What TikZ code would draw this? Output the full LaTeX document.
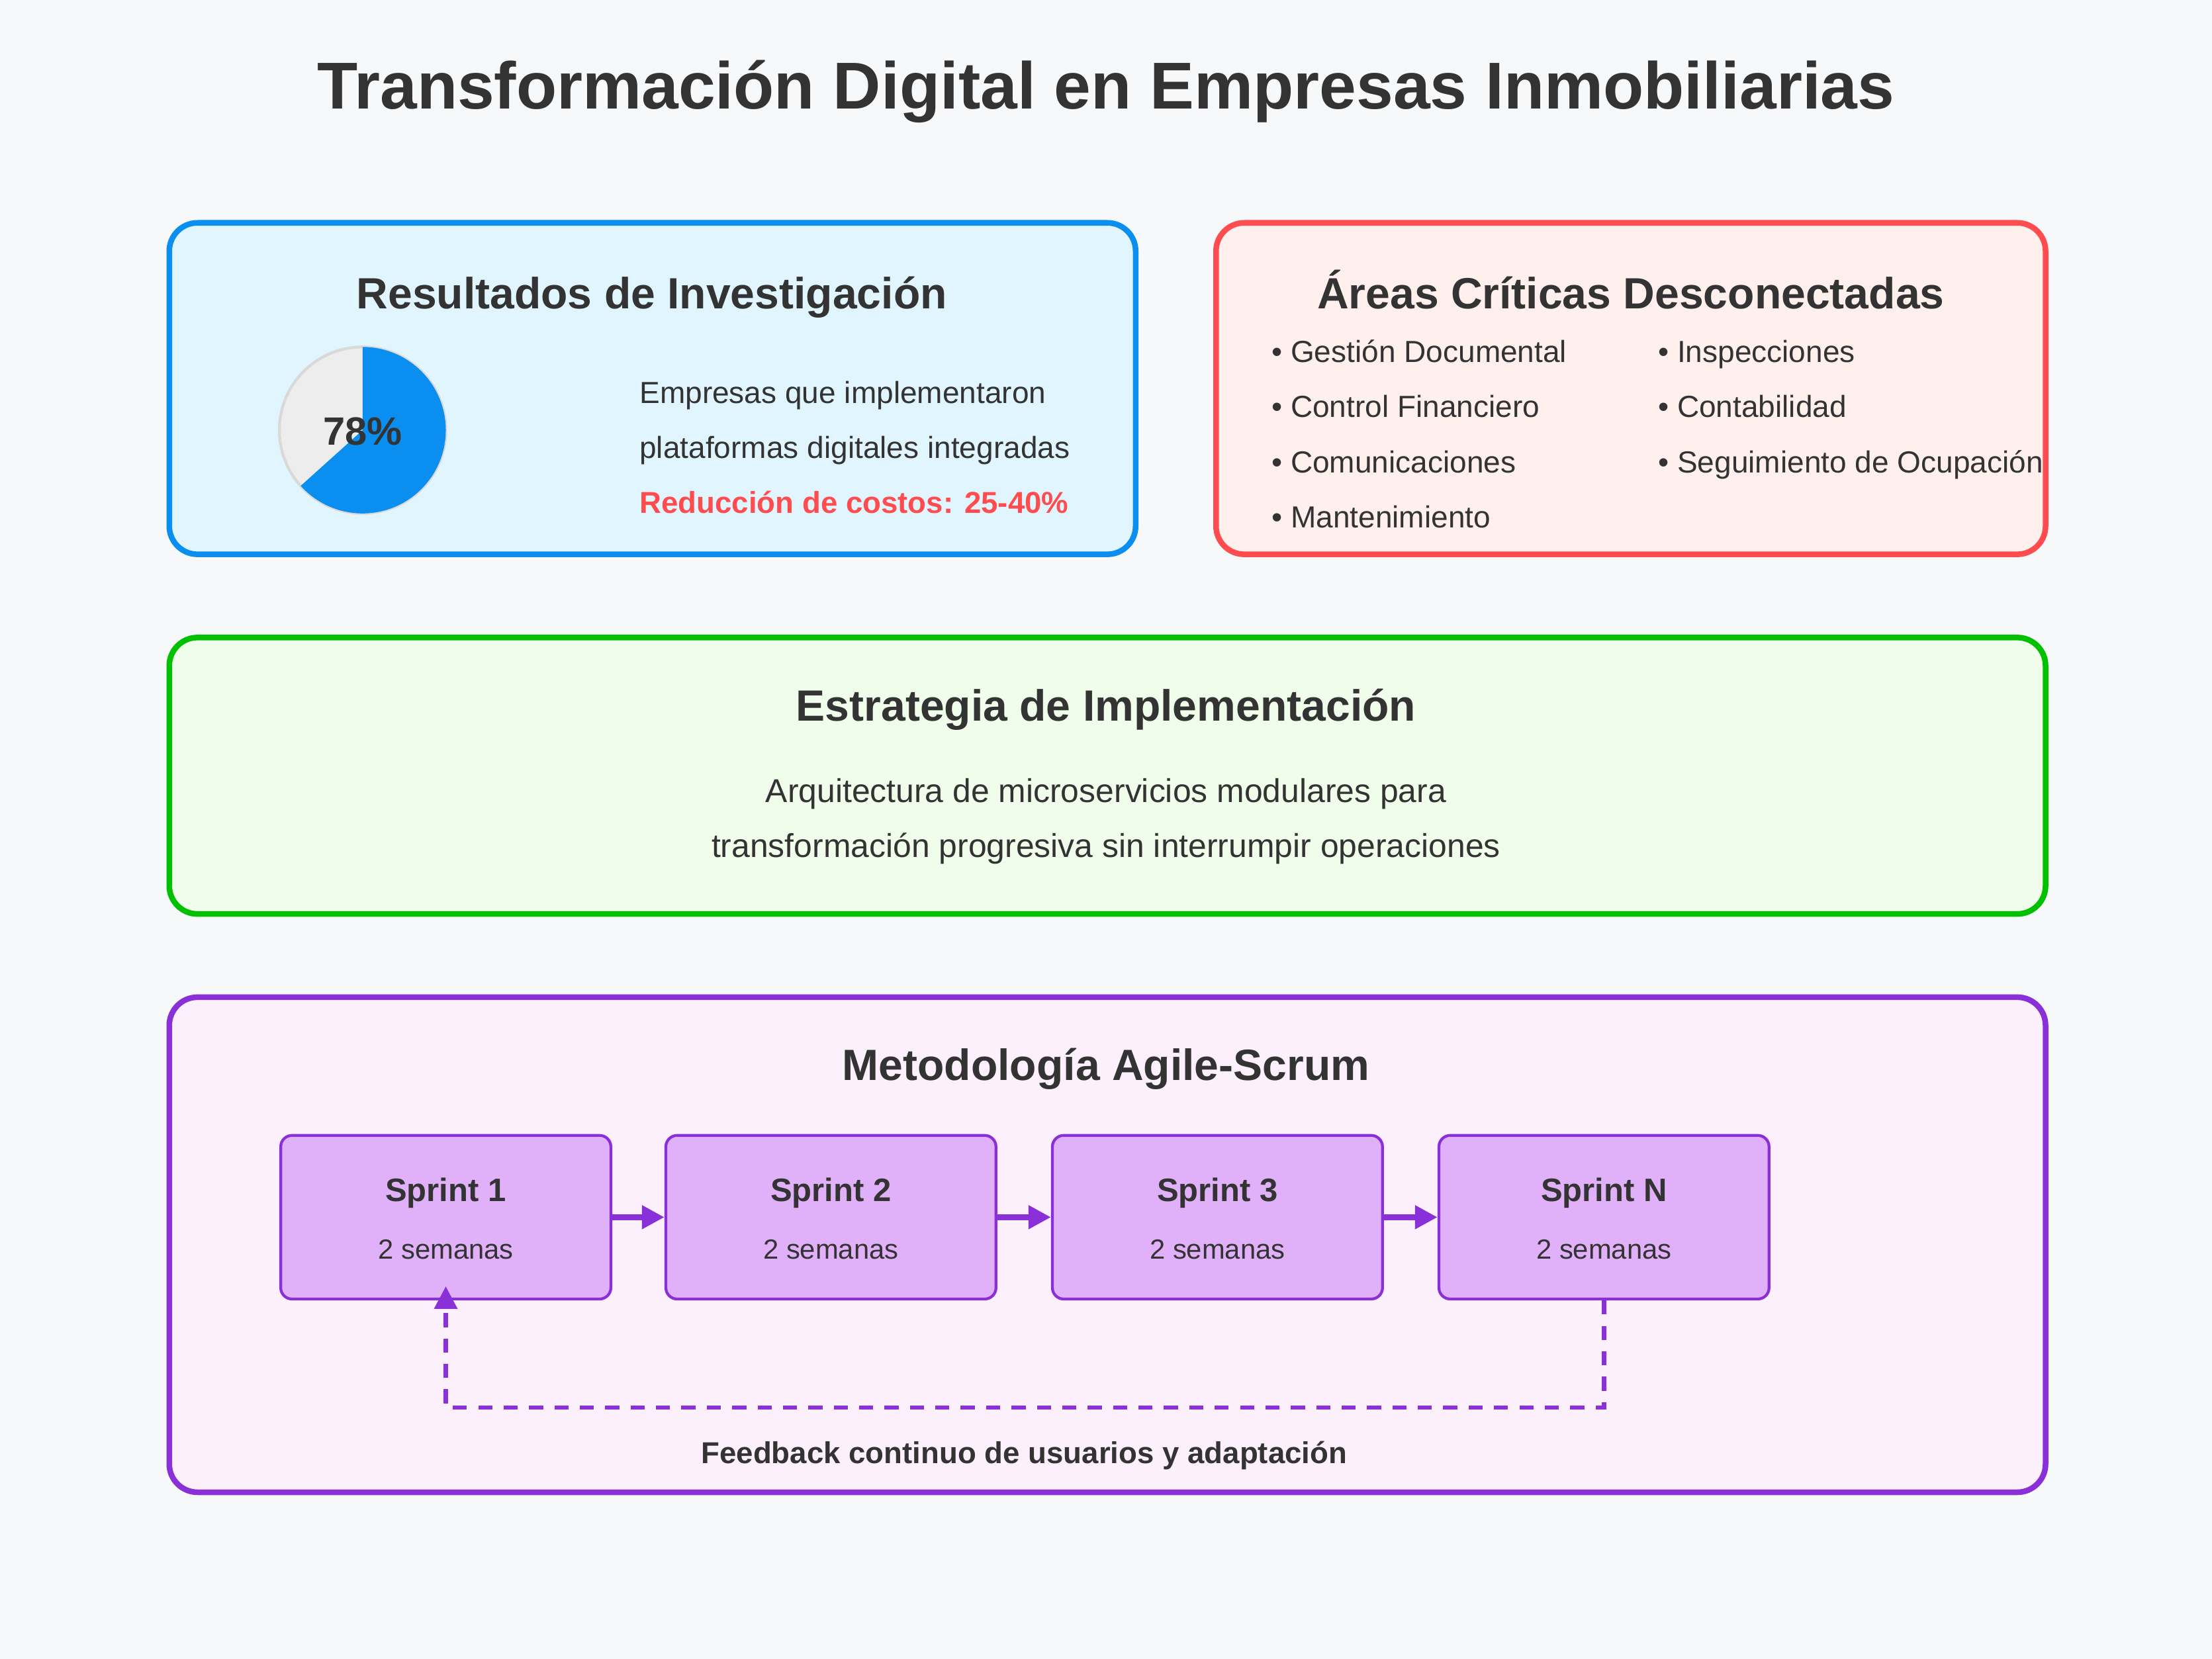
\documentclass[tikz,border=0pt]{standalone}
\usepackage{fontspec}
\setmainfont{Liberation Sans}
\usetikzlibrary{arrows.meta}
\definecolor{txt}{HTML}{333333}
\definecolor{bg}{HTML}{F7F8FA}
\definecolor{blueS}{HTML}{0A8FF0}
\definecolor{blueF}{HTML}{E0F5FE}
\definecolor{redS}{HTML}{FF4D4F}
\definecolor{redF}{HTML}{FFF0EE}
\definecolor{greenS}{HTML}{00C000}
\definecolor{greenF}{HTML}{F0FDEB}
\definecolor{purS}{HTML}{8A30D8}
\definecolor{purF}{HTML}{FCF0FD}
\definecolor{sprF}{HTML}{E0B0F8}
\begin{document}
\begin{tikzpicture}[x=0.5pt,y=-0.5pt,
  panel/.style={line width=2pt,rounded corners=10pt},
  ptitle/.style={font=\fontsize{15.5}{18}\selectfont\bfseries,text=txt,anchor=base},
  body/.style={font=\fontsize{10.8}{13}\selectfont,text=txt,inner sep=0pt},
  sprint/.style={draw=purS,fill=sprF,line width=1pt,rounded corners=4pt,minimum width=117pt,minimum height=58pt},
  arr/.style={draw=purS,line width=2pt,-{Triangle[length=8pt,width=8pt]}}]
\fill[bg] (0,0) rectangle (1568,1176);
\useasboundingbox (0,0) rectangle (1568,1176);
\node[font=\fontsize{23.5}{28}\selectfont\bfseries,text=txt] (title) at (784,65) {Transformación Digital en Empresas Inmobiliarias};
% box 1
\draw[panel,draw=blueS,fill=blueF] (120,158) rectangle (805,393);
\node[ptitle] (t1) at (462,219) {Resultados de Investigación};
\fill[fill=black!7,draw=black!15,line width=1pt] (257,305) circle (29.5pt);
\fill[blueS] (257,305) -- (257,246) arc[start angle=90,end angle=-138,radius=29.5pt] -- cycle;
\node[font=\fontsize{14}{16}\selectfont\bfseries,text=txt] (pct) at (257,306) {78\%};
\node[body,anchor=base west] (r1) at (453,286) {Empresas que implementaron};
\node[body,anchor=base west] (r2) at (453,325) {plataformas digitales integradas};
\node[body,anchor=base west,text=redS,font=\fontsize{10.7}{13}\selectfont\bfseries] (r3) at (453,364) {Reducción de costos: 25-40\%};
% box 2
\draw[panel,draw=redS,fill=redF] (862,158) rectangle (1450,393);
\node[ptitle] (t2) at (1156,219) {Áreas Críticas Desconectadas};
\node[body,anchor=base west] (a1) at (901,257) {• Gestión Documental};
\node[body,anchor=base west] (a2) at (901,296) {• Control Financiero};
\node[body,anchor=base west] (a3) at (901,335) {• Comunicaciones};
\node[body,anchor=base west] (a4) at (901,374) {• Mantenimiento};
\node[body,anchor=base west] (b1) at (1175,257) {• Inspecciones};
\node[body,anchor=base west] (b2) at (1175,296) {• Contabilidad};
\node[body,anchor=base west] (b3) at (1175,335) {• Seguimiento de Ocupación};
% box 3
\draw[panel,draw=greenS,fill=greenF] (120,452) rectangle (1450,648);
\node[ptitle] (t3) at (784,511) {Estrategia de Implementación};
\node[body,anchor=base,font=\fontsize{11.7}{14}\selectfont] (s1) at (784,569) {Arquitectura de microservicios modulares para};
\node[body,anchor=base,font=\fontsize{11.7}{14}\selectfont] (s2) at (784,608) {transformación progresiva sin interrumpir operaciones};
% box 4
\draw[panel,draw=purS,fill=purF] (120,707) rectangle (1450,1058);
\node[ptitle] (t4) at (784,766) {Metodología Agile-Scrum};
\foreach \i/\x/\n in {1/316/Sprint 1,2/589/Sprint 2,3/863/Sprint 3,4/1137/Sprint N}{
  \node[sprint] (sp\i) at (\x,863) {};
  \node[font=\fontsize{11.5}{13}\selectfont\bfseries,text=txt] at (\x,846) {\n};
  \node[font=\fontsize{9.8}{12}\selectfont,text=txt] at (\x,886) {2 semanas};
}
\draw[arr] (sp1.east) -- (sp2.west);
\draw[arr] (sp2.east) -- (sp3.west);
\draw[arr] (sp3.east) -- (sp4.west);
\coordinate (fbR) at (1137,998);
\coordinate (fbL) at (316,998);
\coordinate (fbT) at (316,912);
\draw[draw=purS,line width=1.5pt,dash pattern=on 5pt off 4pt,-{Triangle[length=8pt,width=8pt]}] (sp4.south) -- (fbR) -- (fbL) -- (fbT);
\node[font=\fontsize{10.7}{13}\selectfont\bfseries,text=txt] (fb) at (726,1032) {Feedback continuo de usuarios y adaptación};
\end{tikzpicture}
\end{document}
